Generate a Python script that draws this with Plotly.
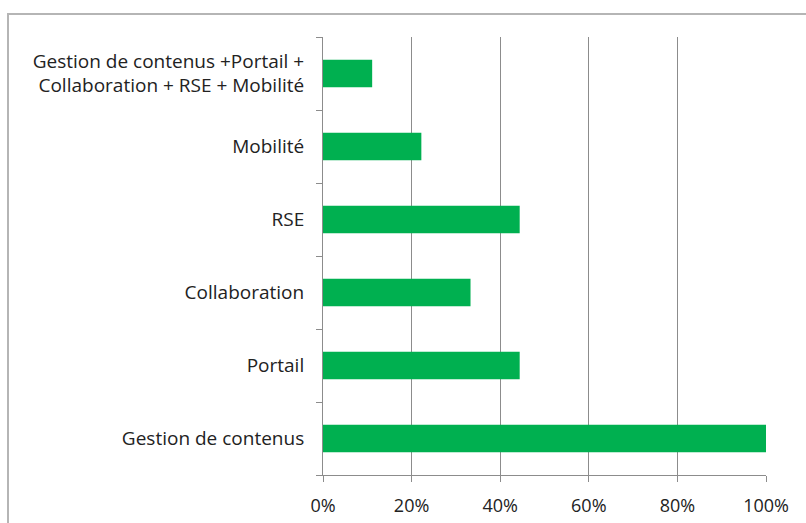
import plotly.graph_objects as go

categories = [
    "Gestion de contenus",
    "Portail",
    "Collaboration",
    "RSE",
    "Mobilité",
    "Gestion de contenus +Portail +<br>Collaboration + RSE + Mobilité",
]
values = [1.0, 0.444, 0.333, 0.444, 0.222, 0.111]
x_ticks = [0, 0.2, 0.4, 0.6, 0.8, 1.0]
x_ticklabels = ["0%", "20%", "40%", "60%", "80%", "100%"]

W, H = 806, 523
L, R, T, B = 323, 40, 37, 48
pw, ph = W - L - R, H - T - B

fig = go.Figure(
    go.Bar(
        x=values,
        y=categories,
        orientation="h",
        marker=dict(color="#00b050", line=dict(width=0)),
        width=0.38,
    )
)

grid = "#8c8c8c"
fig.update_layout(
    width=W,
    height=H,
    margin=dict(l=L, r=R, t=T, b=B, autoexpand=False),
    paper_bgcolor="white",
    plot_bgcolor="white",
    showlegend=False,
    font=dict(family="Open Sans, sans-serif", size=19, color="#222222"),
    xaxis=dict(
        range=[0, 1],
        tickvals=x_ticks,
        ticktext=x_ticklabels,
        showgrid=True,
        gridcolor=grid,
        gridwidth=1,
        zeroline=False,
        showline=True,
        linecolor=grid,
        linewidth=1,
        ticks="outside",
        ticklen=6,
        tickcolor=grid,
        tickfont=dict(size=18),
        ticklabelstandoff=8,
        automargin=False,
    ),
    yaxis=dict(
        showline=True,
        linecolor=grid,
        linewidth=1,
        ticks="outside",
        tickson="boundaries",
        ticklen=6,
        tickcolor=grid,
        showgrid=False,
        tickfont=dict(size=19),
        ticklabelstandoff=14,
        automargin=False,
    ),
    shapes=[
        dict(
            type="rect",
            xref="paper",
            yref="paper",
            x0=(8 - L) / pw,
            x1=(W + 5 - L) / pw,
            y0=-(B + 10) / ph,
            y1=(H - B - 14) / ph,
            line=dict(color="#b5b5b5", width=2),
            layer="below",
        )
    ],
)

fig.write_html("out.html")
